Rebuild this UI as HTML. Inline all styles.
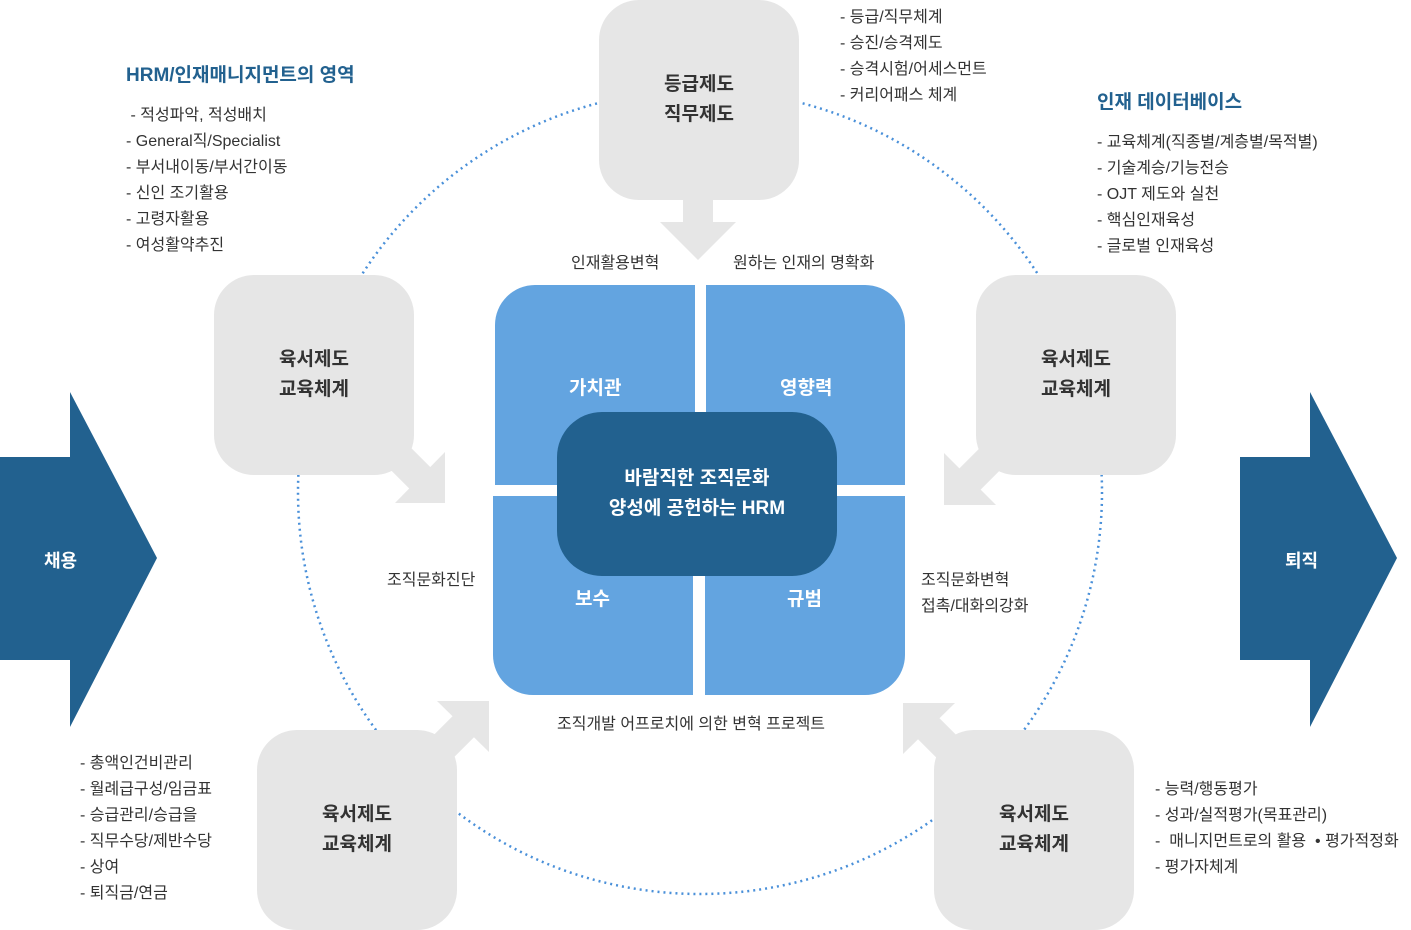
<!DOCTYPE html>
<html><head><meta charset="utf-8"><style>
body{margin:0;width:1411px;height:930px;overflow:hidden;background:#fff;font-family:"Liberation Sans","Noto Sans CJK KR",sans-serif;position:relative}
.a{position:absolute;white-space:nowrap}
.box{position:absolute;width:200px;height:200px;background:#e6e6e6;border-radius:40px;display:flex;align-items:center;justify-content:center;text-align:center;font-weight:bold;font-size:19px;line-height:30px;color:#333}
.list{position:absolute;font-size:16px;line-height:26px;color:#333;white-space:nowrap}
.h{position:absolute;font-size:19px;font-weight:bold;color:#22618f;white-space:nowrap}
.q{position:absolute;background:#63a4e0;color:#fff;font-weight:bold;font-size:19px}
.lbl{position:absolute;font-size:16px;color:#333;white-space:nowrap;line-height:26px}
</style></head><body>
<svg width="1411" height="930" style="position:absolute;left:0;top:0">
<circle cx="700" cy="492" r="402" fill="none" stroke="#4a90d9" stroke-width="2.5" stroke-dasharray="2 4"/>
<g fill="#e6e6e6" stroke="#e6e6e6">
<rect x="683" y="190" width="30" height="34" stroke="none"/>
<polygon points="660,222 736,222 698,260" stroke="none"/>
<line x1="380" y1="438" x2="422" y2="480" stroke-width="30"/>
<polygon points="445,503 445,452 395,503" stroke="none"/>
<line x1="1010" y1="439" x2="968" y2="481" stroke-width="30"/>
<polygon points="944,505 944,453 996,505" stroke="none"/>
<line x1="423" y1="767" x2="465" y2="725" stroke-width="30"/>
<polygon points="489,701 489,752 437,701" stroke="none"/>
<line x1="969" y1="769" x2="927" y2="727" stroke-width="30"/>
<polygon points="903,703 903,754 955,703" stroke="none"/>
</g>
<g fill="#22618f">
<rect x="0" y="457" width="72" height="203"/><polygon points="70,392 157,558 70,727"/>
<rect x="1240" y="457" width="72" height="203"/><polygon points="1310,392 1397,558 1310,727"/>
</g>
</svg>
<div class="a" style="left:44px;top:547px;color:#fff;font-weight:bold;font-size:18px">채용</div>
<div class="a" style="left:1285px;top:547px;color:#fff;font-weight:bold;font-size:18px">퇴직</div>

<div class="box" style="left:599px;top:0">등급제도<br>직무제도</div>
<div class="box" style="left:214px;top:275px">육서제도<br>교육체계</div>
<div class="box" style="left:976px;top:275px">육서제도<br>교육체계</div>
<div class="box" style="left:257px;top:730px">육서제도<br>교육체계</div>
<div class="box" style="left:934px;top:730px">육서제도<br>교육체계</div>

<div class="q" style="left:495px;top:285px;width:200px;height:200px;border-radius:40px 0 0 0"><span class="a" style="left:74px;top:88px">가치관</span></div>
<div class="q" style="left:706px;top:285px;width:199px;height:200px;border-radius:0 40px 0 0"><span class="a" style="left:74px;top:88px">영향력</span></div>
<div class="q" style="left:493px;top:496px;width:200px;height:199px;border-radius:0 0 0 40px"><span class="a" style="left:82px;top:88px">보수</span></div>
<div class="q" style="left:705px;top:496px;width:200px;height:199px;border-radius:0 0 40px 0"><span class="a" style="left:82px;top:88px">규범</span></div>
<div style="position:absolute;left:557px;top:412px;width:280px;height:164px;background:#22618f;border-radius:45px;color:#fff;font-weight:bold;font-size:19px;line-height:30px;text-align:center;display:flex;align-items:center;justify-content:center">바람직한 조직문화<br>양성에 공헌하는 HRM</div>

<div class="lbl" style="left:571px;top:251px">인재활용변혁</div>
<div class="lbl" style="left:733px;top:251px">원하는 인재의 명확화</div>
<div class="lbl" style="left:387px;top:568px">조직문화진단</div>
<div class="lbl" style="left:921px;top:568px">조직문화변혁<br>접촉/대화의강화</div>
<div class="lbl" style="left:557px;top:712px">조직개발 어프로치에 의한 변혁 프로젝트</div>

<div class="h" style="left:126px;top:60px">HRM/인재매니지먼트의 영역</div>
<div class="list" style="left:126px;top:103px">&nbsp;- 적성파악, 적성배치<br>- General직/Specialist<br>- 부서내이동/부서간이동<br>- 신인 조기활용<br>- 고령자활용<br>- 여성활약추진</div>
<div class="list" style="left:840px;top:5px">- 등급/직무체계<br>- 승진/승격제도<br>- 승격시험/어세스먼트<br>- 커리어패스 체계</div>
<div class="h" style="left:1097px;top:87px">인재 데이터베이스</div>
<div class="list" style="left:1097px;top:130px">- 교육체계(직종별/계층별/목적별)<br>- 기술계승/기능전승<br>- OJT 제도와 실천<br>- 핵심인재육성<br>- 글로벌 인재육성</div>
<div class="list" style="left:80px;top:751px">- 총액인건비관리<br>- 월례급구성/임금표<br>- 승급관리/승급을<br>- 직무수당/제반수당<br>- 상여<br>- 퇴직금/연금</div>
<div class="list" style="left:1155px;top:777px">- 능력/행동평가<br>- 성과/실적평가(목표관리)<br>-&nbsp; 매니지먼트로의 활용 &nbsp;• 평가적정화<br>- 평가자체계</div>
</body></html>
